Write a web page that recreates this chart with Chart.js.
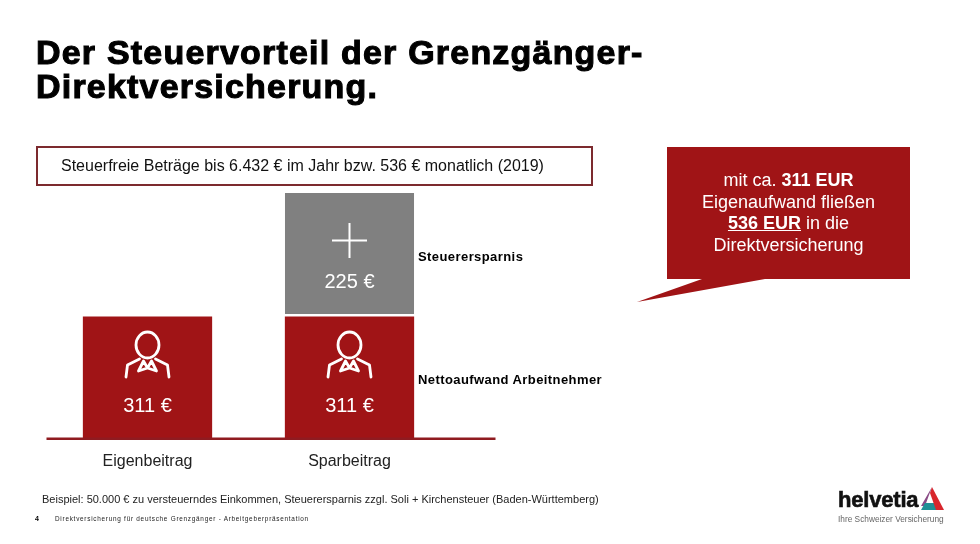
<!DOCTYPE html>
<html>
<head>
<meta charset="utf-8">
<script src="https://cdn.jsdelivr.net/npm/chart.js@4/dist/chart.umd.min.js"></script>
<style>
html,body{margin:0;padding:0;background:#fff;overflow:hidden;}
body{width:980px;height:544px;position:relative;font-family:"Liberation Sans",Arial,sans-serif;color:#000;}
#wrap{position:absolute;left:0;top:0;width:980px;height:544px;}
.t{position:absolute;white-space:nowrap;}
#titel{left:36px;top:36px;font-size:34px;line-height:33.5px;font-weight:bold;letter-spacing:1.2px;-webkit-text-stroke:1.1px #000;}
#box{left:36px;top:146px;width:553px;height:36px;border:2px solid #7c2a2e;}
#boxtext{left:61px;top:157px;font-size:16px;line-height:18px;color:#111;}
.seite{font-size:13px;font-weight:bold;letter-spacing:.42px;line-height:14px;}
#callout{position:absolute;left:630px;top:140px;}
#callouttext{left:667px;top:170px;width:243px;text-align:center;color:#fff;font-size:18px;line-height:21.7px;white-space:normal;}
#fuss{left:42px;top:493px;font-size:11px;line-height:13px;color:#222;}
#nr{left:35px;top:514px;font-size:7px;line-height:9px;font-weight:bold;}
#fuss2{left:55px;top:514px;font-size:6.4px;line-height:9px;letter-spacing:.74px;color:#222;}
#logo{left:838px;top:487px;font-size:22px;line-height:26px;font-weight:bold;letter-spacing:-.2px;-webkit-text-stroke:.6px #111;color:#111;}
#claim{left:838px;top:514px;font-size:8.3px;line-height:10px;color:#666;}
#dreieck{position:absolute;left:918px;top:484px;}
</style>
</head>
<body>
<div id="wrap"><canvas id="myChart" width="980" height="544"></canvas></div>

<div class="t" id="titel">Der Steuervorteil der Grenzgänger-<br>Direktversicherung.</div>
<div class="t" id="box"></div>
<div class="t" id="boxtext">Steuerfreie Beträge bis 6.432 € im Jahr bzw. 536 € monatlich (2019)</div>
<div class="t seite" style="left:418px;top:250px">Steuerersparnis</div>
<div class="t seite" style="left:418px;top:373px">Nettoaufwand Arbeitnehmer</div>

<svg id="callout" width="290" height="170"><polygon fill="#a01416" points="37,7 280,7 280,139 135,139 7,162 72,139 37,139"/></svg>
<div class="t" id="callouttext">mit ca. <b>311 EUR</b><br>Eigenaufwand fließen<br><b><u>536 EUR</u></b> in die<br>Direktversicherung</div>

<div class="t" id="fuss">Beispiel: 50.000 € zu versteuerndes Einkommen, Steuerersparnis zzgl. Soli + Kirchensteuer (Baden-Württemberg)</div>
<div class="t" id="nr">4</div>
<div class="t" id="fuss2">Direktversicherung für deutsche Grenzgänger - Arbeitgeberpräsentation</div>

<div class="t" id="logo">helvetia</div>
<div class="t" id="claim">Ihre Schweizer Versicherung</div>
<svg id="dreieck" width="28" height="28">
  <polygon fill="#8a4a86" points="14,3 3,22 7,22 11,11"/>
  <polygon fill="#1f8f96" points="3,26 7,19 20,19 22,26"/>
  <polygon fill="#d8262c" points="14,3 26,26 18,26 12,9"/>
</svg>

<script>
var kategorien = ["Eigenbeitrag","Sparbeitrag"];
var nettoaufwand = [311,311];
var steuerersparnis = [null,225];

var rot = "#a01416";
var grau = "#808080";

// im Original sind beide Kaesten gleich hoch, obwohl 225 < 311:
// darum hat jede Reihe eine eigene Achse, die ihren Wert auf halbe Hoehe legt
var maxNetto = Math.max.apply(null,nettoaufwand);
var maxSteuer = 225;

function person(c,x,y){
  c.save();
  c.strokeStyle="#fff";
  c.lineWidth=2.8;
  c.lineJoin="round";
  c.lineCap="round";
  c.beginPath();
  c.ellipse(x,y+14,11.5,13,0,0,Math.PI*2);
  c.stroke();
  [-1,1].forEach(function(s){
    c.beginPath();
    c.moveTo(x+s*21.5,y+46);
    c.lineTo(x+s*20,y+34);
    c.lineTo(x+s*8,y+28);
    c.stroke();
  });
  c.beginPath();
  c.moveTo(x-9,y+40);
  c.lineTo(x-4,y+30);
  c.lineTo(x,y+37);
  c.lineTo(x+4,y+30);
  c.lineTo(x+9,y+40);
  c.lineTo(x,y+37);
  c.closePath();
  c.stroke();
  c.restore();
}

var kastenPlugin = {
  id:"kasten",
  afterDatasetsDraw:function(chart){
    var c = chart.ctx;
    var sx = chart.scales.x;
    var y0 = chart.scales.y.getPixelForValue(0);
    // Grundlinie laeuft rechts ueber die Kategorien hinaus
    c.fillStyle="#8f1b20";
    c.fillRect(sx.left,y0-2.5,sx.right-sx.left+45,2.5);

    c.textAlign="center";
    c.textBaseline="middle";
    c.font="20px 'Liberation Sans'";
    c.fillStyle="#fff";
    chart.getDatasetMeta(0).data.forEach(function(bar,i){
      person(c,bar.x,bar.y+14.5);
      c.fillText(nettoaufwand[i]+" €",bar.x,bar.y+89.5);
    });
    chart.getDatasetMeta(1).data.forEach(function(bar,i){
      if(steuerersparnis[i]==null) return;
      c.fillRect(bar.x-17.5,bar.y+46.5,35,2);
      c.fillRect(bar.x-1,bar.y+30,2,35);
      c.fillText(steuerersparnis[i]+" €",bar.x,bar.y+89);
    });
  }
};

var ctx = document.getElementById("myChart").getContext("2d");
var myChart = new Chart(ctx,{
  type:"bar",
  plugins:[kastenPlugin],
  data:{
    labels:kategorien,
    datasets:[{
      label:"Nettoaufwand Arbeitnehmer",
      data:nettoaufwand,
      yAxisID:"y",
      backgroundColor:rot,
      borderWidth:0
    },{
      label:"Steuerersparnis",
      data:steuerersparnis,
      yAxisID:"y2",
      backgroundColor:grau,
      borderColor:"#fff",
      borderWidth:{bottom:2.4,top:0,left:0,right:0},
      borderSkipped:false
    }]
  },
  options:{
    responsive:false,
    animation:false,
    layout:{padding:{left:46.5,right:529.5,top:193,bottom:0}},
    grouped:false,
    barPercentage:0.64,
    categoryPercentage:1,
    inflateAmount:0,
    plugins:{legend:{display:false},tooltip:{enabled:false},title:{display:false}},
    scales:{
      x:{
        grid:{display:false,drawTicks:false},
        border:{display:false},
        ticks:{padding:12,color:"#222",font:{family:"Liberation Sans",size:16}},
        afterFit:function(s){s.height=104;}
      },
      y:{display:false,min:0,max:2*maxNetto},
      y2:{display:false,min:-maxSteuer,max:maxSteuer}
    }
  }
});
</script>
</body>
</html>
